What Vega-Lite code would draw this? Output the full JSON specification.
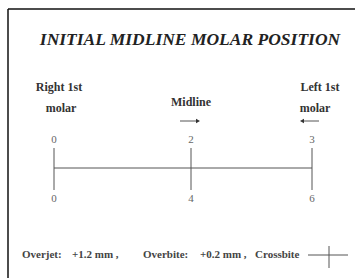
{
  "$schema": "https://vega.github.io/schema/vega-lite/v6.json",
  "width": 355,
  "height": 278,
  "autosize": {"type": "none"},
  "padding": 0,
  "background": "white",
  "view": {"stroke": null},
  "datasets": {
    "frame": [
      {"x": 8, "x2": 355, "y": 9, "y2": 9},
      {"x": 8, "x2": 8, "y": 9, "y2": 278}
    ],
    "lines": [
      {"x": 54, "x2": 54, "y": 148, "y2": 190},
      {"x": 191, "x2": 191, "y": 148, "y2": 190},
      {"x": 312, "x2": 312, "y": 148, "y2": 190},
      {"x": 54, "x2": 312, "y": 168, "y2": 168},
      {"x": 308, "x2": 348, "y": 255, "y2": 255},
      {"x": 329, "x2": 329, "y": 246, "y2": 268},
      {"x": 180, "x2": 198, "y": 121, "y2": 121},
      {"x": 302, "x2": 319, "y": 121, "y2": 121}
    ],
    "heads": [
      {"x": 198, "y": 121, "dir": "right"},
      {"x": 302, "y": 121, "dir": "left"}
    ],
    "labels": [
      {"x": 59, "y": 87, "label": "Right 1st"},
      {"x": 61, "y": 108, "label": "molar"},
      {"x": 191, "y": 102, "label": "Midline"},
      {"x": 320, "y": 87, "label": "Left 1st"},
      {"x": 315, "y": 108, "label": "molar"}
    ],
    "numbers": [
      {"x": 54, "y": 140, "label": "0"},
      {"x": 191, "y": 140, "label": "2"},
      {"x": 312, "y": 140, "label": "3"},
      {"x": 54, "y": 199, "label": "0"},
      {"x": 191, "y": 199, "label": "4"},
      {"x": 312, "y": 199, "label": "6"}
    ],
    "footer": [
      {"x": 22, "y": 255, "label": "Overjet:"},
      {"x": 72, "y": 255, "label": "+1.2 mm ,"},
      {"x": 143, "y": 255, "label": "Overbite:"},
      {"x": 200, "y": 255, "label": "+0.2 mm ,"},
      {"x": 255, "y": 255, "label": "Crossbite"}
    ],
    "title": [
      {"x": 190, "y": 40, "label": "INITIAL MIDLINE MOLAR POSITION"}
    ]
  },
  "layer": [
    {
      "data": {"name": "frame"},
      "mark": {"type": "rule", "color": "#111", "strokeWidth": 1.5},
      "encoding": {
        "x": {"field": "x", "type": "quantitative", "scale": {"domain": [0, 355], "nice": false, "zero": false}, "axis": null},
        "x2": {"field": "x2"},
        "y": {"field": "y", "type": "quantitative", "scale": {"domain": [0, 278], "nice": false, "zero": false, "reverse": true}, "axis": null},
        "y2": {"field": "y2"}
      }
    },
    {
      "data": {"name": "lines"},
      "mark": {"type": "rule", "color": "#555", "strokeWidth": 1},
      "encoding": {
        "x": {"field": "x", "type": "quantitative"},
        "x2": {"field": "x2"},
        "y": {"field": "y", "type": "quantitative"},
        "y2": {"field": "y2"}
      }
    },
    {
      "data": {"name": "heads"},
      "mark": {"type": "point", "filled": true, "color": "#333", "size": 22, "opacity": 1},
      "encoding": {
        "x": {"field": "x", "type": "quantitative"},
        "y": {"field": "y", "type": "quantitative"},
        "shape": {"field": "dir", "type": "nominal", "scale": {"domain": ["right", "left"], "range": ["triangle-right", "triangle-left"]}, "legend": null}
      }
    },
    {
      "data": {"name": "title"},
      "mark": {"type": "text", "font": "Liberation Serif", "fontSize": 17.5, "fontWeight": "bold", "fontStyle": "italic", "color": "#222", "align": "center", "baseline": "middle"},
      "encoding": {
        "x": {"field": "x", "type": "quantitative"},
        "y": {"field": "y", "type": "quantitative"},
        "text": {"field": "label"}
      }
    },
    {
      "data": {"name": "labels"},
      "mark": {"type": "text", "font": "Liberation Serif", "fontSize": 12, "fontWeight": "bold", "color": "#333", "align": "center", "baseline": "middle"},
      "encoding": {
        "x": {"field": "x", "type": "quantitative"},
        "y": {"field": "y", "type": "quantitative"},
        "text": {"field": "label"}
      }
    },
    {
      "data": {"name": "numbers"},
      "mark": {"type": "text", "font": "Liberation Serif", "fontSize": 11, "color": "#666", "align": "center", "baseline": "middle"},
      "encoding": {
        "x": {"field": "x", "type": "quantitative"},
        "y": {"field": "y", "type": "quantitative"},
        "text": {"field": "label"}
      }
    },
    {
      "data": {"name": "footer"},
      "mark": {"type": "text", "font": "Liberation Serif", "fontSize": 11, "fontWeight": "bold", "color": "#444", "align": "left", "baseline": "middle"},
      "encoding": {
        "x": {"field": "x", "type": "quantitative"},
        "y": {"field": "y", "type": "quantitative"},
        "text": {"field": "label"}
      }
    }
  ]
}
